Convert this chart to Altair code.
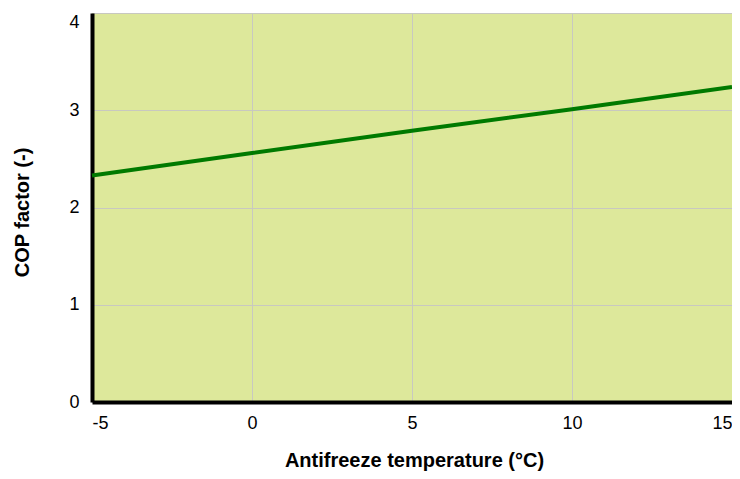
import altair as alt
import pandas as pd

temps = [-5, 0, 5, 10, 15]
cop = [2.33, 2.56, 2.79, 3.01, 3.24]
x_ticks = [-5, 0, 5, 10, 15]
y_ticks = [0, 1, 2, 3, 4]

df = pd.DataFrame({"temp": temps, "cop": cop})

FONT = "Liberation Sans"

chart = alt.Chart(df).mark_line(color="#007a00", strokeWidth=4).encode(
    x=alt.X(
        "temp:Q",
        scale=alt.Scale(domain=[-5, 15], nice=False, zero=False),
        axis=alt.Axis(
            values=x_ticks,
            title="Antifreeze temperature (°C)",
            labelExpr="'' + datum.value",
            domainColor="black",
            domainWidth=4,
            ticks=False,
            labelFlush=True,
            labelPadding=12,
            labelFontSize=18,
            labelColor="black",
            labelFont=FONT,
            titleFont=FONT,
            titleFontSize=20,
            titleFontWeight="bold",
            titleColor="black",
            titleX=322,
            titleY=64,
            titleBaseline="alphabetic",
            gridColor="#c8c8c0",
            gridWidth=1,
        ),
    ),
    y=alt.Y(
        "cop:Q",
        scale=alt.Scale(domain=[0, 4], nice=False),
        axis=alt.Axis(
            values=y_ticks,
            title="COP factor (-)",
            domainColor="black",
            domainWidth=4,
            ticks=False,
            labelPadding=13,
            labelFontSize=18,
            labelColor="black",
            labelFont=FONT,
            labelBaseline=alt.ExprRef(expr="datum.value == 4 ? 'top' : 'middle'"),
            titleFont=FONT,
            titleFontSize=20,
            titleFontWeight="bold",
            titleColor="black",
            titleAngle=270,
            titleX=-64,
            titleY=199,
            titleBaseline="alphabetic",
            gridColor="#c8c8c0",
            gridWidth=1,
        ),
    ),
).properties(
    width=640,
    height=389,
    autosize=alt.AutoSizeParams(type="none"),
    padding={"left": 84, "top": 5, "right": 0, "bottom": 69},
).configure_view(
    fill="#dde89b",
    stroke=None,
)

chart.save("out.html", embed_options={"renderer": "svg", "actions": False})
